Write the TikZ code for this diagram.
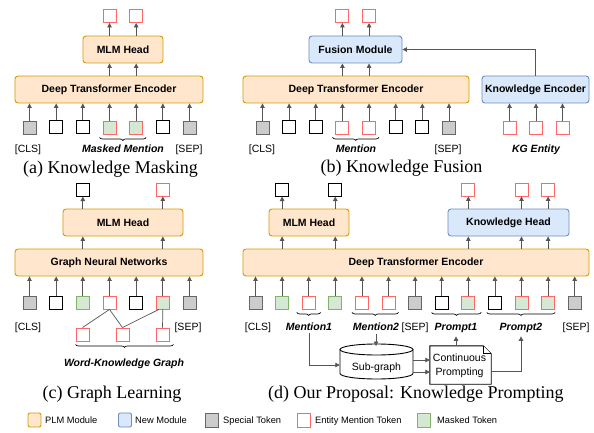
\documentclass[tikz,border=0pt]{standalone}
\usepackage{fontspec}
\setmainfont{Liberation Serif}
\newfontfamily\hv{Liberation Sans}
\usetikzlibrary{arrows.meta,decorations.pathreplacing,calc}
\definecolor{orF}{HTML}{FFE6CC}
\definecolor{orD}{HTML}{D79B00}
\definecolor{blF}{HTML}{DAE8FC}
\definecolor{blD}{HTML}{6C8EBF}
\definecolor{grF}{HTML}{CCCCCC}
\definecolor{grD}{HTML}{666666}
\definecolor{gnF}{HTML}{D5E8D4}
\definecolor{gnD}{HTML}{82B366}
\definecolor{rdD}{HTML}{FF6666}
\definecolor{arrc}{HTML}{555555}
\begin{document}
\begin{tikzpicture}[x=1pt,y=-1pt,
 box/.style={rounded corners=3pt, line width=0.9pt, font=\hv\bfseries\fontsize{10.5}{12}\selectfont, inner sep=0},
 plm/.style={box, draw=orD, fill=orF},
 newm/.style={box, draw=blD, fill=blF},
 tok/.style={minimum width=13pt, minimum height=13pt, inner sep=0, line width=0.9pt},
 sp/.style={tok, draw=grD, fill=grF},
 pl/.style={tok, draw=black, fill=white, line width=1pt},
 en/.style={tok, draw=rdD, fill=white},
 mk/.style={tok, draw=gnD, fill=gnF},
 me/.style={tok, draw=rdD, fill=gnF},
 arr/.style={-{Triangle[length=4.5pt,width=4.5pt]}, draw=arrc, line width=0.8pt},
 lab/.style={font=\hv\fontsize{10.5}{12}\selectfont, inner sep=0, anchor=base},
 blab/.style={font=\hv\bfseries\itshape\fontsize{10.5}{12}\selectfont, inner sep=0, anchor=base},
 captxt/.style={font=\fontsize{18}{20}\selectfont, inner sep=0, anchor=base},
 leg/.style={font=\hv\fontsize{9.3}{11}\selectfont, inner sep=0, anchor=base west},
 brc/.style={decorate, decoration={brace, amplitude=3pt, mirror}, line width=0.7pt},
 gl/.style={draw=arrc, line width=0.7pt},
]
\useasboundingbox (0,0) rectangle (594,433);

% ---------------- (a) ----------------
\node[plm, minimum width=80pt, minimum height=27pt] (ha) at (123,49.5) {MLM Head};
\node[plm, minimum width=188pt, minimum height=27pt] (ea) at (109,89.5) {Deep Transformer Encoder};
\foreach \s [count=\i] in {sp,pl,pl,me,me,pl,sp}{
  \node[\s] (a\i) at ({29.5+26.67*(\i-1)},127.5) {};
  \draw[arr] (a\i.north) -- (a\i.north |- ea.south);
}
\node[en] (oa1) at (a4 |- 0,16) {};
\node[en] (oa2) at (a5 |- 0,16) {};
\foreach \i/\o in {4/1,5/2}{
  \draw[arr] (a\i.north |- ea.north) -- (a\i.north |- ha.south);
  \draw[arr] (oa\o |- ha.north) -- (oa\o.south);
}
\node[lab] (la1) at (28,152) {[CLS]};
\node[blab] (la2) at (123,152) {Masked Mention};
\node[lab] (la3) at (189,152) {[SEP]};
\draw[brc] ($(a4.south west)+(-3,3)$) -- ($(a5.south east)+(3,3)$);
\node[captxt] (capa) at (110.5,173) {(a) Knowledge Masking};

% ---------------- (b) ----------------
\node[newm, minimum width=93pt, minimum height=27pt] (fm) at (355.5,49.5) {Fusion Module};
\node[plm, minimum width=226pt, minimum height=27pt] (eb) at (356,89.5) {Deep Transformer Encoder};
\node[newm, minimum width=107pt, minimum height=27pt] (ke) at (535.5,89.5) {Knowledge Encoder};
\foreach \s [count=\i] in {sp,pl,pl,en,en,pl,pl,sp}{
  \node[\s] (b\i) at ({262.5+26.64*(\i-1)},127.5) {};
  \draw[arr] (b\i.north) -- (b\i.north |- eb.south);
}
\foreach \x [count=\i] in {509.5,536,562.5}{
  \node[en] (k\i) at (\x,127.5) {};
  \draw[arr] (k\i.north) -- (k\i.north |- ke.south);
}
\node[en] (ob1) at (b4 |- 0,16) {};
\node[en] (ob2) at (b5 |- 0,16) {};
\foreach \i/\o in {4/1,5/2}{
  \draw[arr] (b\i.north |- eb.north) -- (b\i.north |- fm.south);
  \draw[arr] (ob\o |- fm.north) -- (ob\o.south);
}
\draw[arr] (ke.north) |- (fm.east);
\node[lab] (lb1) at (262,152) {[CLS]};
\node[blab] (lb2) at (356,152) {Mention};
\node[lab] (lb3) at (448,152) {[SEP]};
\node[blab] (lb4) at (536,152) {KG Entity};
\draw[brc] ($(b4.south west)+(-3,3)$) -- ($(b5.south east)+(3,3)$);
\node[captxt] (capb) at (401.5,172) {(b) Knowledge Fusion};

% ---------------- (c) ----------------
\node[plm, minimum width=120pt, minimum height=27pt] (hc) at (123,222.5) {MLM Head};
\node[plm, minimum width=188pt, minimum height=27pt] (gc) at (109,262.5) {Graph Neural Networks};
\foreach \s [count=\i] in {sp,pl,mk,en,pl,me,sp}{
  \node[\s] (c\i) at ({29.5+26.67*(\i-1)},302.5) {};
  \draw[arr] (c\i.north) -- (c\i.north |- gc.south);
}
\node[pl] (oc1) at (c3 |- 0,189.5) {};
\node[en] (oc2) at (c6 |- 0,189.5) {};
\foreach \i/\o in {3/1,6/2}{
  \draw[arr] (c\i.north |- gc.north) -- (c\i.north |- hc.south);
  \draw[arr] (oc\o |- hc.north) -- (oc\o.south);
}
\node[en] (g1) at (82.5,334.5) {};
\node[en] (g2) at (122.5,334.5) {};
\node[en] (g3) at (162.5,334.5) {};
\draw[gl] (c4.south) -- (g1.north);
\draw[gl] (c4.south) -- (g2.north);
\draw[gl] ($(c6.south)+(-4,0)$) -- (g2.north);
\draw[gl] (c6.south) -- (g3.north);
\node[lab] (lc1) at (28,330) {[CLS]};
\node[lab] (lc2) at (188,330) {[SEP]};
\draw[brc] ($(g1.south west)+(0,3)$) -- ($(g3.south east)+(4,3)$);
\node[blab] (lc3) at (124,366) {Word-Knowledge Graph};
\node[captxt] (capc) at (112,398) {(c) Graph Learning};

% ---------------- (d) ----------------
\node[plm, minimum width=80pt, minimum height=27pt] (hd) at (309,222.5) {MLM Head};
\node[newm, minimum width=121pt, minimum height=27pt] (kh) at (508.5,222.5) {Knowledge Head};
\node[plm, minimum width=346pt, minimum height=27pt] (ed) at (416,262.5) {Deep Transformer Encoder};
\foreach \s [count=\i] in {sp,mk,en,mk,en,en,sp,pl,me,pl,me,me,sp}{
  \node[\s] (d\i) at ({255.5+26.6*(\i-1)},302.5) {};
  \draw[arr] (d\i.north) -- (d\i.north |- ed.south);
}
\node[pl] (od1) at (d2 |- 0,189.5) {};
\node[pl] (od2) at (d4 |- 0,189.5) {};
\node[en] (od3) at (d9 |- 0,189.5) {};
\node[en] (od4) at (d11 |- 0,189.5) {};
\node[en] (od5) at (d12 |- 0,189.5) {};
\foreach \i/\o in {2/1,4/2}{
  \draw[arr] (d\i.north |- ed.north) -- (d\i.north |- hd.south);
  \draw[arr] (od\o |- hd.north) -- (od\o.south);
}
\foreach \i/\o in {9/3,11/4,12/5}{
  \draw[arr] (d\i.north |- ed.north) -- (d\i.north |- kh.south);
  \draw[arr] (od\o |- kh.north) -- (od\o.south);
}
\node[lab] (ld1) at (258,330) {[CLS]};
\node[blab] (m1) at (309,330) {Mention1};
\node[blab] (m2) at (376,330) {Mention2};
\node[lab] (ld2) at (415,330) {[SEP]};
\node[blab] (p1) at (456,330) {Prompt1};
\node[blab] (p2) at (521,330) {Prompt2};
\node[lab] (ld3) at (576,330) {[SEP]};
\draw[brc] ($(d3.south west)+(-5,3)$) -- ($(d3.south east)+(5,3)$);
\draw[brc] ($(d5.south west)+(-3,3)$) -- ($(d6.south east)+(3,3)$);
\draw[brc] ($(d8.south west)+(-3,3)$) -- ($(d9.south east)+(6,3)$);
\draw[brc] ($(d10.south west)+(-1,3)$) -- ($(d12.south east)+(0,3)$);

% sub-graph cylinder
\node[minimum width=73pt, minimum height=35pt, inner sep=0] (sg) at (376.5,361.5) {};
\draw[line width=0.9pt, fill=white] (340,349.5) -- (340,373.5)
   arc[start angle=180, end angle=360, x radius=36.5pt, y radius=5.5pt] -- (413,349.5);
\draw[line width=0.9pt, fill=white] (376.5,349.5) ellipse[x radius=36.5pt, y radius=5.5pt];
\node[lab, anchor=center] (sgt) at (376.5,368) {Sub-graph};

% continuous prompting note
\node[minimum width=61pt, minimum height=38pt, inner sep=0] (cp) at (460.5,365) {};
\draw[line width=0.9pt, fill=white] (cp.south west) -- (cp.north west) -- ($(cp.north east)+(-8,0)$)
   -- ($(cp.north east)+(0,8)$) -- (cp.south east) -- cycle;
\draw[line width=0.7pt, fill=white] ($(cp.north east)+(-8,0)$) -- ($(cp.north east)+(-8,8)$) -- ($(cp.north east)+(0,8)$);
\node[font=\hv\fontsize{10.5}{14}\selectfont, align=center, inner sep=0] (cpt) at (459.5,366) {Continuous\\Prompting};

\draw[arr] ([yshift=-3pt]m1.south) |- (sg.west |- 0,365);
\draw[arr] ([yshift=-4pt]m2.south) -- (m2.south |- 0,346);
\draw[arr] (sg.east |- 0,360) -- (cp.west |- 0,360);
\draw[arr] (sg.east |- 0,372) -- (cp.west |- 0,372);
\draw[arr] (p1.south |- cp.north) -- ([yshift=-4pt]p1.south);
\draw[arr] (cp.east |- 0,371) -| ([yshift=-4pt]p2.south);
\node[captxt] (capd) at (415.8,398) {(d) Our Proposal: Knowledge Prompting};

% ---------------- legend ----------------
\node[plm, minimum width=13pt, minimum height=14pt, rounded corners=2pt] (L1) at (34.5,420) {};
\node[leg] (T1) at (45,423.5) {PLM Module};
\node[newm, minimum width=13pt, minimum height=14pt, rounded corners=2pt] (L2) at (125,420) {};
\node[leg] (T2) at (135,423.5) {New Module};
\node[sp, minimum height=14pt] (L3) at (211.5,420) {};
\node[leg] (T3) at (223,423.5) {Special Token};
\node[en, minimum height=14pt] (L4) at (303.5,420) {};
\node[leg] (T4) at (315,423.5) {Entity Mention Token};
\node[mk, minimum height=14pt] (L5) at (424,420) {};
\node[leg] (T5) at (437,423.5) {Masked Token};
\end{tikzpicture}
\end{document}
